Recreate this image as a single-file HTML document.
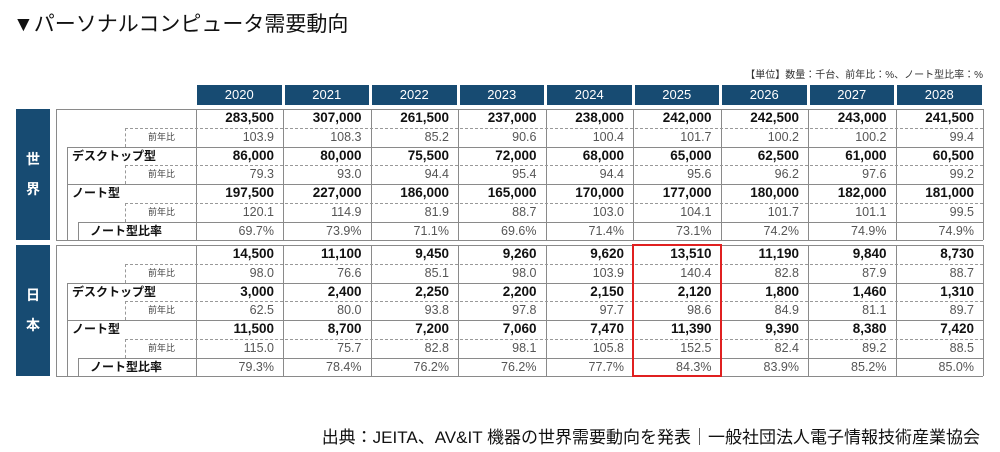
<!DOCTYPE html>
<html><head><meta charset="utf-8">
<style>
body{margin:0;width:1000px;height:452px;background:#fff;position:relative;overflow:hidden;font-family:"Liberation Sans","Noto Sans CJK JP",sans-serif;}
.a{position:absolute;}
.t{position:absolute;white-space:nowrap;}
</style></head>
<body>
<div class="t" style="left:13px;top:8px;font-size:21px;color:#111;">▼パーソナルコンピュータ需要動向</div>
<div class="t" style="right:17px;top:66px;font-size:10px;color:#333;">【単位】数量：千台、前年比：%、ノート型比率：%</div>
<div class="t" style="right:20px;top:423px;font-size:17px;color:#111;">出典：JEITA、AV&amp;IT 機器の世界需要動向を発表｜一般社団法人電子情報技術産業協会</div>
<div id="tbl"></div>
<script>
const years=["2020","2021","2022","2023","2024","2025","2026","2027","2028"];
const worldTotal=["283,500","307,000","261,500","237,000","238,000","242,000","242,500","243,000","241,500"];
const worldTotalYoy=["103.9","108.3","85.2","90.6","100.4","101.7","100.2","100.2","99.4"];
const worldDesk=["86,000","80,000","75,500","72,000","68,000","65,000","62,500","61,000","60,500"];
const worldDeskYoy=["79.3","93.0","94.4","95.4","94.4","95.6","96.2","97.6","99.2"];
const worldNote=["197,500","227,000","186,000","165,000","170,000","177,000","180,000","182,000","181,000"];
const worldNoteYoy=["120.1","114.9","81.9","88.7","103.0","104.1","101.7","101.1","99.5"];
const worldRatio=["69.7%","73.9%","71.1%","69.6%","71.4%","73.1%","74.2%","74.9%","74.9%"];
const jpTotal=["14,500","11,100","9,450","9,260","9,620","13,510","11,190","9,840","8,730"];
const jpTotalYoy=["98.0","76.6","85.1","98.0","103.9","140.4","82.8","87.9","88.7"];
const jpDesk=["3,000","2,400","2,250","2,200","2,150","2,120","1,800","1,460","1,310"];
const jpDeskYoy=["62.5","80.0","93.8","97.8","97.7","98.6","84.9","81.1","89.7"];
const jpNote=["11,500","8,700","7,200","7,060","7,470","11,390","9,390","8,380","7,420"];
const jpNoteYoy=["115.0","75.7","82.8","98.1","105.8","152.5","82.4","89.2","88.5"];
const jpRatio=["79.3%","78.4%","76.2%","76.2%","77.7%","84.3%","83.9%","85.2%","85.0%"];
const highlightYear="2025";

const T=document.getElementById('tbl');
const X0=195.5,X1=983,CW=(X1-X0)/9,RH=18.75;
function box(l,t,w,h,st){const d=document.createElement('div');d.className='a';d.style.cssText=`left:${l}px;top:${t}px;width:${w}px;height:${h}px;`+st;T.appendChild(d);return d;}
function txt(s,l,t,w,h,st){const d=document.createElement('div');d.className='t';d.textContent=s;d.style.cssText=`left:${l}px;top:${t}px;width:${w}px;height:${h}px;line-height:${h}px;`+st;T.appendChild(d);return d;}

years.forEach((y,i)=>{
  const h=box(X0+i*CW+1.5,85,CW-3,20,'background:#174b72;');
  
  
  const tt=txt(y,X0+i*CW+1.5,85,CW-3,20,'color:#fff;font-size:13px;text-align:center;');
  
  
});

function section(key,label,top,rows){
  const H=RH*7;
  const s=box(16,top,34,H,'background:#174b72;');
  
  
  const lb=txt(label[0],16,top+H/2-28,34,24,'color:#fff;font-size:14px;font-weight:bold;text-align:center;');
  
  
  const lb2=txt(label[1],16,top+H/2+2,34,24,'color:#fff;font-size:14px;font-weight:bold;text-align:center;');
  
  
  const ln='#8a8a8a';
  box(56,top,X1-56,0,`border-top:1px solid ${ln};`);
  box(56,top+H,X1-56,0,`border-top:1px solid ${ln};`);
  box(56,top,0,H,`border-left:1px solid ${ln};`);
  box(X1,top,0,H,`border-left:1px solid ${ln};`);
  box(67,top+RH*2,0,RH*5,`border-left:1px solid ${ln};`);
  box(78,top+RH*6,0,RH,`border-left:1px solid ${ln};`);
  for(let c=0;c<9;c++) box(X0+c*CW,top,0,H,`border-left:1px solid ${ln};`);
  [2,4].forEach(r=>box(67,top+RH*r,X1-67,0,`border-top:1px solid ${ln};`));
  box(78,top+RH*6,X1-78,0,`border-top:1px solid ${ln};`);
  [1,3,5].forEach(r=>{box(125,top+RH*r,X1-125,0,'border-top:1px dashed #999;');box(125,top+RH*r,0,RH,'border-left:1px dashed #999;');});
  const names=['','前年比','デスクトップ型','前年比','ノート型','前年比','ノート型比率'];
  const rn=['total','total-yoy','desktop','desktop-yoy','notebook','notebook-yoy','notebook-ratio'];
  names.forEach((n,r)=>{
    if(!n) return;
    const yoy=n==='前年比';
    const l=yoy?125:(r===6?90:72);
    const e=txt(n,l,top+RH*r,yoy?50:115,RH,yoy?'font-size:9px;color:#444;text-align:right;':'font-size:12px;font-weight:bold;color:#111;');
    
    
  });
  rows.forEach((arr,r)=>{
    const bold=(r%2===0&&r<6);
    arr.forEach((v,c)=>{
      const e=txt(v,X0+c*CW,top+RH*r,CW-9,RH,'text-align:right;font-size:'+(bold?'13.5px;font-weight:bold;color:#111;':'12.5px;color:#555;'));
      
      
    });
  });
  return top+H;
}
section('world','世界',109,[worldTotal,worldTotalYoy,worldDesk,worldDeskYoy,worldNote,worldNoteYoy,worldRatio]);
section('japan','日本',245,[jpTotal,jpTotalYoy,jpDesk,jpDeskYoy,jpNote,jpNoteYoy,jpRatio]);
const hi=years.indexOf(highlightYear);
const hb=box(X0+hi*CW-1,244,CW+2,133,'border:2px solid #e02020;box-sizing:border-box;');


</script>
</body></html>
